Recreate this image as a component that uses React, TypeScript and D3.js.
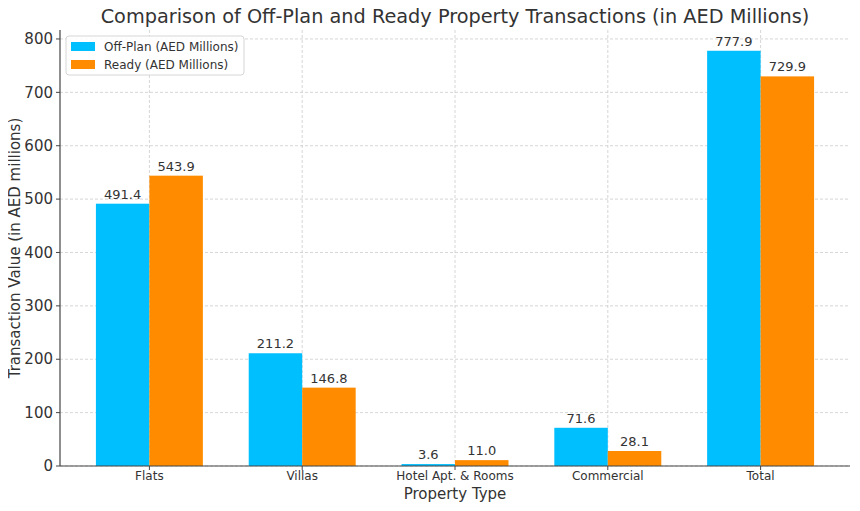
import React, { useEffect, useRef } from 'react';
import * as d3 from 'd3';

const categories = ['Flats', 'Villas', 'Hotel Apt. & Rooms', 'Commercial', 'Total'];
const offPlan = [491.4, 211.2, 3.6, 71.6, 777.9];
const ready = [543.9, 146.8, 11.0, 28.1, 729.9];
const yTicks = [0, 100, 200, 300, 400, 500, 600, 700, 800];
const seriesNames = ['Off-Plan (AED Millions)', 'Ready (AED Millions)'];
const seriesColors = ['#00BFFF', '#FF8C00'];

const width = 860;
const height = 511;
const margin = { top: 30, right: 10, bottom: 45, left: 60 };
const font = 'DejaVu Sans, sans-serif';
const textColor = '#333333';

const App: React.FC = () => {
    const svgRef = useRef<SVGSVGElement>(null);

    useEffect(() => {
        const svg = d3.select(svgRef.current);
        svg.selectAll('*').remove();

        const innerW = width - margin.left - margin.right;
        const innerH = height - margin.top - margin.bottom;
        const barW = 0.35;

        // matplotlib-like autoscale: bars span -0.35..4.35 with 5% margins
        const lo = -barW, hi = categories.length - 1 + barW;
        const pad = (hi - lo) * 0.05;
        const x = d3.scaleLinear().domain([lo - pad, hi + pad]).range([0, innerW]);
        const y = d3.scaleLinear().domain([0, d3.max(offPlan.concat(ready))! * 1.05]).range([innerH, 0]);

        const g = svg.append('g').attr('transform', `translate(${margin.left},${margin.top})`);

        // grid
        g.selectAll('.ygrid').data(yTicks).enter().append('line')
            .attr('x1', 0).attr('x2', innerW)
            .attr('y1', d => y(d)).attr('y2', d => y(d))
            .attr('stroke', '#cccccc').attr('stroke-width', 0.8).attr('stroke-dasharray', '3,2');
        g.selectAll('.xgrid').data(categories).enter().append('line')
            .attr('x1', (d, i) => x(i)).attr('x2', (d, i) => x(i))
            .attr('y1', 0).attr('y2', innerH)
            .attr('stroke', '#cccccc').attr('stroke-width', 0.8).attr('stroke-dasharray', '3,2');

        // bars
        const series = [offPlan, ready];
        series.forEach((vals, s) => {
            const offset = s === 0 ? -barW : 0;
            g.selectAll(`.bar${s}`).data(vals).enter().append('rect')
                .attr('x', (d, i) => x(i + offset))
                .attr('width', x(barW) - x(0))
                .attr('y', d => y(d))
                .attr('height', d => innerH - y(d))
                .attr('fill', seriesColors[s]);
            g.selectAll(`.lbl${s}`).data(vals).enter().append('text')
                .attr('x', (d, i) => x(i + offset + barW / 2))
                .attr('y', d => y(d) - 5)
                .attr('text-anchor', 'middle')
                .style('font-family', font).style('font-size', '13px').style('fill', textColor)
                .text(d => d.toFixed(1));
        });

        // axes
        g.append('line').attr('x1', 0).attr('x2', 0).attr('y1', 0).attr('y2', innerH)
            .attr('stroke', '#444').attr('stroke-width', 1.2);
        g.append('line').attr('x1', 0).attr('x2', innerW).attr('y1', innerH).attr('y2', innerH)
            .attr('stroke', '#444').attr('stroke-width', 1.2);

        g.selectAll('.ytick').data(yTicks).enter().append('line')
            .attr('x1', -4).attr('x2', 0).attr('y1', d => y(d)).attr('y2', d => y(d))
            .attr('stroke', '#444');
        g.selectAll('.ylab').data(yTicks).enter().append('text')
            .attr('x', -7).attr('y', d => y(d)).attr('dy', '0.35em')
            .attr('text-anchor', 'end')
            .style('font-family', font).style('font-size', '15px').style('fill', textColor)
            .text(d => d);

        g.selectAll('.xtick').data(categories).enter().append('line')
            .attr('x1', (d, i) => x(i)).attr('x2', (d, i) => x(i))
            .attr('y1', innerH).attr('y2', innerH + 4)
            .attr('stroke', '#444');
        g.selectAll('.xlab').data(categories).enter().append('text')
            .attr('x', (d, i) => x(i)).attr('y', innerH + 10).attr('dy', '0.35em')
            .attr('text-anchor', 'middle')
            .style('font-family', font).style('font-size', '12px').style('fill', textColor)
            .text(d => d);

        // labels
        svg.append('text')
            .attr('x', margin.left + innerW / 2).attr('y', margin.top + innerH + 33)
            .attr('text-anchor', 'middle')
            .style('font-family', font).style('font-size', '15px').style('fill', textColor)
            .text('Property Type');
        svg.append('text')
            .attr('transform', `translate(20,${margin.top + innerH / 2}) rotate(-90)`)
            .attr('text-anchor', 'middle')
            .style('font-family', font).style('font-size', '15px').style('fill', textColor)
            .text('Transaction Value (in AED millions)');
        svg.append('text')
            .attr('x', margin.left + innerW / 2).attr('y', 23)
            .attr('text-anchor', 'middle')
            .style('font-family', font).style('font-size', '19.3px').style('fill', textColor)
            .text('Comparison of Off-Plan and Ready Property Transactions (in AED Millions)');

        // legend
        const legend = g.append('g').attr('transform', 'translate(6,6)');
        legend.append('rect')
            .attr('width', 178).attr('height', 39).attr('rx', 3)
            .attr('fill', 'white').attr('fill-opacity', 0.85)
            .attr('stroke', '#d6d6d6');
        seriesNames.forEach((name, i) => {
            legend.append('rect')
                .attr('x', 5).attr('y', 6 + i * 18).attr('width', 24).attr('height', 9)
                .attr('fill', seriesColors[i]);
            legend.append('text')
                .attr('x', 38).attr('y', 10.5 + i * 18).attr('dy', '0.35em')
                .style('font-family', font).style('font-size', '12px').style('fill', textColor)
                .text(name);
        });
    }, []);

    return <svg ref={svgRef} width={width} height={height} style={{ display: 'block', margin: -8 }} />;
};

export default App;
